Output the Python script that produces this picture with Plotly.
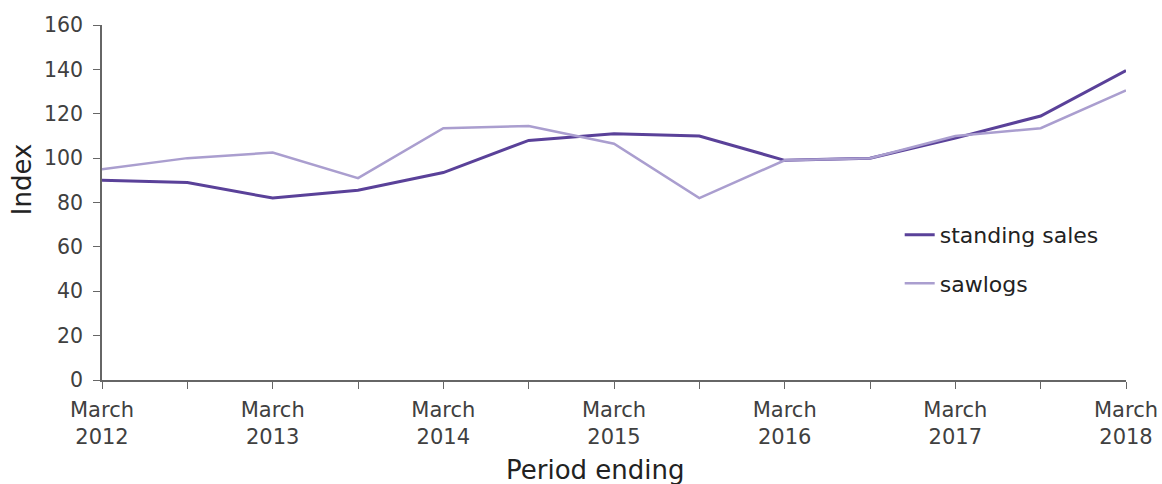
import plotly.graph_objects as go

periods = ["March 2012", "September 2012", "March 2013", "September 2013", "March 2014",
           "September 2014", "March 2015", "September 2015", "March 2016", "September 2016",
           "March 2017", "September 2017", "March 2018"]
standing_sales = [90, 89, 82, 85.5, 93.5, 108, 111, 110, 99, 100, 109, 119, 139.5]
sawlogs = [95, 100, 102.5, 91, 113.5, 114.5, 106.5, 82, 99, 100, 110, 113.5, 130.5]

tick_text = []
for i, p in enumerate(periods):
    if i % 2 == 0:
        m, y = p.split(" ")
        tick_text.append(f"{m}<br>{y}")
    else:
        tick_text.append("")

xs = list(range(len(periods)))

fig = go.Figure()
fig.add_trace(go.Scatter(x=xs, y=standing_sales, mode="lines", name="standing sales",
                         line=dict(color="#5a4199", width=3), legendgroup="a"))
fig.add_trace(go.Scatter(x=xs, y=sawlogs, mode="lines", name="sawlogs",
                         line=dict(color="#aa9ecf", width=2.5), legendgroup="b"))

font_family = "DejaVu Sans, Verdana, sans-serif"
title_font = dict(family=font_family, size=26, color="#222222")
axis_col = "#666666"
fig.update_layout(
    width=1162, height=484,
    margin=dict(l=102, r=36, t=25, b=104),
    paper_bgcolor="white", plot_bgcolor="white",
    font=dict(family=font_family, size=20, color="#404040"),
    showlegend=True,
    legend=dict(x=0.779, y=0.468, xanchor="left", yanchor="top",
                font=dict(size=22, color="#222222"), tracegroupgap=17,
                bgcolor="rgba(0,0,0,0)"),
    xaxis=dict(range=[0, 12], tickvals=xs, ticktext=tick_text, showgrid=False,
               zeroline=False, showline=True, linecolor=axis_col, linewidth=1.5,
               ticks="outside", ticklen=7, tickcolor=axis_col,
               tickfont=dict(size=21), ticklabelstandoff=3, automargin=False,
               ticklabeloverflow="allow"),
    yaxis=dict(range=[0, 160], dtick=20, showgrid=False, zeroline=False,
               showline=True, linecolor=axis_col, linewidth=1.5,
               ticks="outside", ticklen=7, tickcolor=axis_col,
               tickfont=dict(size=20.5), ticklabelstandoff=6, automargin=False),
    annotations=[
        dict(text="Period ending", xref="paper", yref="paper", x=0.482, y=-0.253,
             xanchor="center", yanchor="middle", showarrow=False, font=title_font),
        dict(text="Index", xref="paper", yref="paper", x=-0.078, y=0.566,
             xanchor="center", yanchor="middle", textangle=-90, showarrow=False,
             font=title_font),
    ],
)
fig.write_html("out.html", config={"displayModeBar": False},
               post_script="document.body.style.margin='0';document.body.style.overflow='hidden';")
